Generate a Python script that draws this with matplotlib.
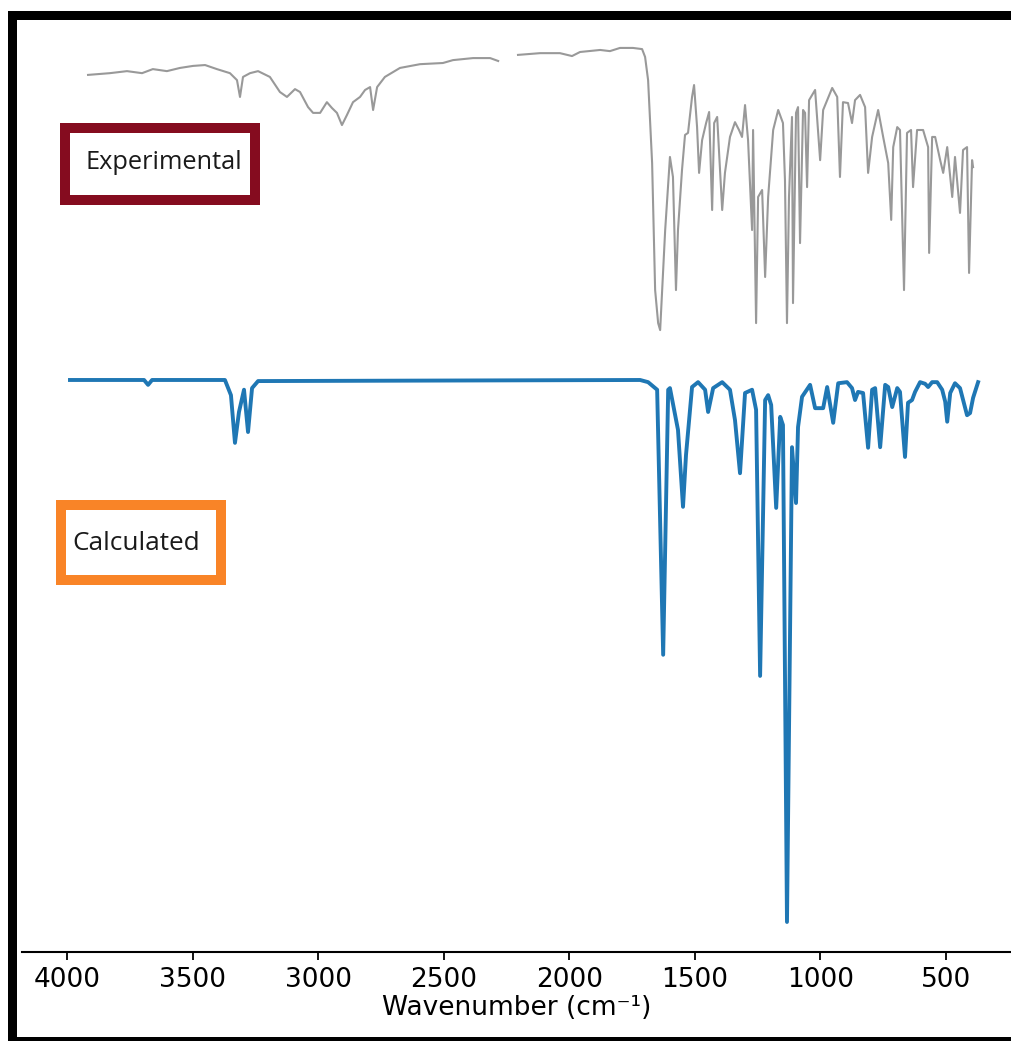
import matplotlib
matplotlib.use("Agg")
import matplotlib.pyplot as plt
from matplotlib.patches import Rectangle

# calculated spectrum: wavenumber (cm-1) and relative transmittance (%)
calc_wn = [3988, 3693, 3677, 3661, 3371, 3347, 3331, 3315, 3295, 3279, 3263, 3239,
           1718, 1686, 1650, 1626, 1606, 1599, 1567, 1547, 1535, 1511, 1487, 1459,
           1447, 1427, 1391, 1360, 1340, 1320, 1300, 1272, 1256, 1240, 1220, 1208,
           1196, 1176, 1160, 1149, 1133, 1113, 1097, 1089, 1073, 1041, 1021, 989,
           973, 949, 929, 894, 874, 862, 850, 830, 810, 794, 782, 762, 742, 730,
           714, 694, 683, 663, 651, 635, 623, 603, 583, 571, 555, 535, 515, 503,
           495, 483, 464, 444, 416, 404, 392, 372]
calc_t = [100.0, 100.0, 99.1, 100.0, 100.0, 97.2, 88.4, 94.1, 98.2, 90.4, 98.5, 99.8,
          100.0, 99.6, 98.2, 49.3, 98.2, 98.5, 90.8, 76.6, 86.2, 98.7, 99.6, 98.2,
          94.1, 98.5, 99.6, 98.2, 92.6, 82.8, 97.6, 98.2, 94.5, 45.4, 96.3, 97.2,
          95.4, 76.4, 93.2, 91.7, 0.0, 87.6, 77.3, 91.3, 96.9, 99.1, 94.8, 94.8,
          98.7, 92.1, 99.4, 99.6, 98.5, 96.3, 97.8, 97.6, 87.5, 98.2, 98.5, 87.6, 99.1, 98.7,
          95.0, 98.5, 97.8, 85.8, 95.8, 96.3, 97.8, 99.6, 99.3, 98.7, 99.6, 99.6, 98.2, 96.0,
          92.3, 97.6, 99.4, 98.5, 93.5, 93.9, 96.7, 99.6]

# experimental spectrum (two scanned pieces with a gap near 2250 cm-1)
exp_wn_high = [3916, 3829, 3761, 3701, 3658, 3602, 3550, 3498, 3450, 3403, 3351, 3323,
               3311, 3299, 3271, 3239, 3192, 3152, 3124, 3092, 3072, 3040, 3020, 2992,
               2965, 2945, 2925, 2905, 2885, 2861, 2833, 2813, 2793, 2781, 2765, 2734,
               2674, 2594, 2503, 2463, 2383, 2315, 2283]
exp_t_high = [89.7, 90.3, 91.0, 90.3, 91.7, 91.0, 92.1, 92.8, 93.1, 91.7, 90.3, 87.9,
              82.1, 89.0, 90.3, 91.0, 89.0, 83.8, 82.1, 84.8, 83.8, 78.6, 76.6, 76.6,
              80.3, 78.3, 76.6, 72.4, 75.9, 80.3, 82.1, 84.5, 85.5, 77.6, 85.5, 89.0,
              92.1, 93.4, 93.8, 94.8, 95.5, 95.5, 94.5]
exp_wn_low = [2204, 2116, 2037, 1989, 1957, 1877, 1838, 1798, 1746, 1710, 1698, 1686,
              1670, 1658, 1646, 1638, 1630, 1618, 1599, 1587, 1575, 1567, 1551, 1539,
              1527, 1511, 1503, 1491, 1483, 1471, 1455, 1443, 1431, 1423, 1411, 1391,
              1380, 1360, 1340, 1324, 1312, 1300, 1288, 1272, 1268, 1256, 1248, 1232,
              1220, 1208, 1188, 1168, 1149, 1141, 1133, 1125, 1113, 1109, 1097, 1089,
              1081, 1069, 1061, 1053, 1045, 1021, 1001, 989, 953, 933, 922, 910, 890,
              874, 862, 842, 822, 810, 794, 770, 750, 730, 718, 710, 694, 683, 667,
              655, 639, 631, 615, 591, 571, 567, 555, 543, 523, 511, 495, 475, 464,
              444, 432, 416, 408, 396, 392]
exp_t_low = [96.6, 97.2, 97.2, 96.2, 97.6, 98.3, 97.9, 99.0, 99.0, 98.6, 95.9, 87.9,
             59.3, 15.5, 4.1, 1.7, 15.5, 36.2, 61.4, 54.5, 15.5, 36.2, 56.9, 69.0,
             69.7, 82.1, 86.2, 71.7, 55.9, 67.2, 73.1, 76.9, 43.1, 73.1, 75.2, 43.1,
             55.9, 68.3, 73.4, 70.7, 68.3, 79.3, 67.2, 36.2, 70.7, 4.1, 47.6, 50.0,
             20.0, 47.6, 70.7, 77.6, 73.1, 53.4, 4.1, 47.6, 75.2, 11.0, 76.6, 78.6,
             31.7, 77.6, 76.6, 51.0, 81.0, 84.5, 60.3, 77.6, 85.2, 82.1, 54.5, 80.3, 80.0,
             73.1, 81.0, 82.8, 78.6, 55.9, 68.3, 77.6, 68.3, 59.3, 39.7, 64.8, 71.7, 70.7, 15.5,
             69.7, 70.7, 51.0, 70.7, 70.7, 64.8, 28.3, 68.3, 68.3, 60.3, 55.9, 64.8, 47.6, 61.4,
             42.1, 63.8, 64.8, 21.4, 60.3, 57.9]

W, H = 1011, 1041
fig = plt.figure(figsize=(W / 100, H / 100), dpi=100)


def fx(px):
    return px / W


def fy(py):
    return 1 - py / H


ax = fig.add_axes([fx(22), fy(952), fx(1011) - fx(22), fy(22) - fy(952)])

# experimental trace stacked above the calculated one
exp_off, exp_scale = 1.083, 0.535
ax.plot(exp_wn_high, [exp_off + exp_scale * t / 100 for t in exp_t_high],
        color='#999999', lw=1.5)
ax.plot(exp_wn_low, [exp_off + exp_scale * t / 100 for t in exp_t_low],
        color='#999999', lw=1.5)
ax.plot(calc_wn, [t / 100 for t in calc_t], color='#1f77b4', lw=2.8)

ax.set_xlim(4179, 241)
ax.set_ylim(-0.0554, 1.6605)
ax.set_xticks([4000, 3500, 3000, 2500, 2000, 1500, 1000, 500])
ax.set_yticks([])
for s in ['top', 'right', 'left']:
    ax.spines[s].set_visible(False)
ax.spines['bottom'].set_linewidth(1.5)
ax.tick_params(axis='x', labelsize=19, length=6, width=1.3, pad=5)
ax.set_xlabel('Wavenumber (cm⁻¹)', fontsize=19, labelpad=1)

# label boxes
fig.add_artist(Rectangle((fx(65), fy(200)), fx(190), 72 / H, transform=fig.transFigure,
                         facecolor='white', edgecolor='#850c1f', lw=7.2, joinstyle='miter'))
fig.text(fx(85), fy(162), 'Experimental', fontsize=18.3, family='Open Sans',
         color='#1a1a1a', va='center', ha='left')
fig.add_artist(Rectangle((fx(61), fy(580)), fx(160), 75 / H, transform=fig.transFigure,
                         facecolor='white', edgecolor='#f98427', lw=7.2, joinstyle='miter'))
fig.text(fx(72), fy(544), 'Calculated', fontsize=18.8, family='Open Sans',
         color='#1a1a1a', va='center', ha='left')

# thick black frame around the picture
fig.add_artist(Rectangle((fx(8), 0), fx(9), fy(11), transform=fig.transFigure,
                         facecolor='black', lw=0))
fig.add_artist(Rectangle((fx(8), fy(20)), 1, 9 / H, transform=fig.transFigure,
                         facecolor='black', lw=0))
fig.add_artist(Rectangle((fx(8), 0), 1, 4 / H, transform=fig.transFigure,
                         facecolor='black', lw=0))

fig.savefig('out.png', dpi=100)
